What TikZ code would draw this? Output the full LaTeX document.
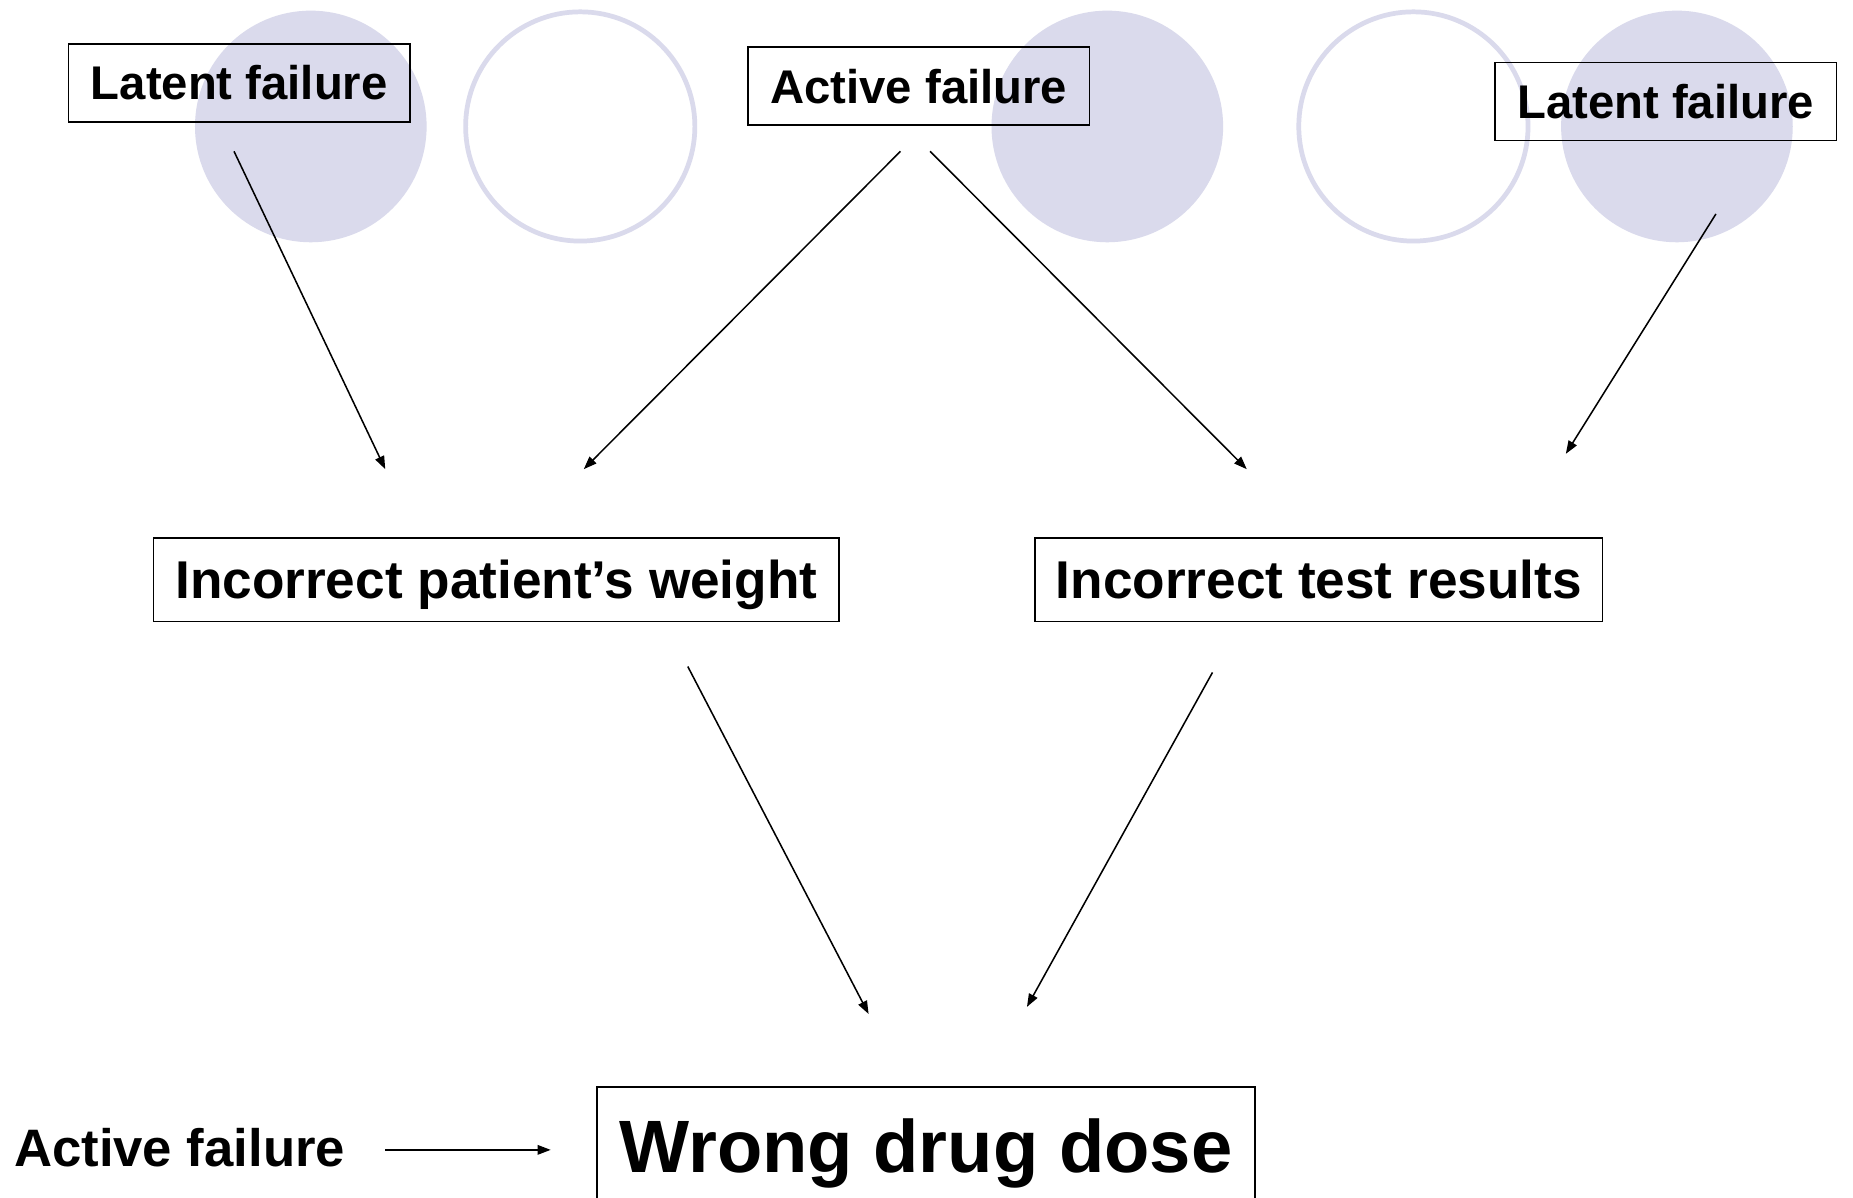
\documentclass[tikz,border=0pt]{standalone}
\usepackage{fontspec}
\setmainfont{Liberation Sans}
\usetikzlibrary{arrows.meta}
\definecolor{lav}{RGB}{218,218,236}
\begin{document}
\begin{tikzpicture}[x=1pt,y=-1pt,
  fbox/.style={draw=black, line width=1.4pt, inner sep=0pt, text height=28.6pt, text depth=0pt,
    font=\bfseries\fontsize{40}{48}\selectfont},
  mbox/.style={fbox, text height=32.2pt, font=\bfseries\fontsize{45}{54}\selectfont},
  bigbox/.style={fbox, text height=45pt, font=\bfseries\fontsize{62.8}{75}\selectfont},
  plain/.style={inner sep=0pt, text height=32pt, text depth=0pt, font=\bfseries\fontsize{44.6}{54}\selectfont},
  disc/.style={fill=lav},
  ring/.style={draw=lav, line width=4pt},
  arr/.style={line width=1.3pt, -{Triangle[length=11pt,width=8pt]}}]
\clip (0,0) rectangle (1568,1013);
\fill[white] (0,0) rectangle (1568,1013);
% circles
\fill[disc] (263,107) circle[radius=98];
\draw[ring] (491,107) circle[radius=97];
\fill[disc] (937,107) circle[radius=98];
\draw[ring] (1196,107) circle[radius=97];
\fill[disc] (1419,107) circle[radius=98];
% boxes
\node[fbox, minimum width=289pt, minimum height=66pt] (lat1) at (202.5,70) {Latent failure};
\node[fbox, minimum width=289pt, minimum height=66pt] (act1) at (777.5,73) {Active failure};
\node[fbox, minimum width=289pt, minimum height=66pt] (lat2) at (1409.5,86) {Latent failure};
\node[mbox, minimum width=580pt, minimum height=71pt] (wgt) at (420,490.5) {Incorrect patient’s weight};
\node[mbox, minimum width=480pt, minimum height=71pt] (tst) at (1116,490.5) {Incorrect test results};
\node[bigbox, minimum width=557pt, minimum height=100pt] (dose) at (783.5,970) {Wrong drug dose};
\node[plain] (act2) at (152,971) {Active failure};
% connector end points
\coordinate (a1s) at (198,128);  \coordinate (a1e) at (326,397);
\coordinate (a2s) at (762,128);  \coordinate (a2e) at (494,397);
\coordinate (a3s) at (787,128);  \coordinate (a3e) at (1055,397);
\coordinate (a4s) at (1452,181); \coordinate (a4e) at (1325,384);
\coordinate (a5s) at (582,564);  \coordinate (a5e) at (735,858);
\coordinate (a6s) at (1026,569); \coordinate (a6e) at (869,852);
\coordinate (a7s) at (326,973);  \coordinate (a7e) at (466,973);
\draw[arr] (a1s) -- (a1e);
\draw[arr] (a2s) -- (a2e);
\draw[arr] (a3s) -- (a3e);
\draw[arr] (a4s) -- (a4e);
\draw[arr] (a5s) -- (a5e);
\draw[arr] (a6s) -- (a6e);
\draw[arr] (a7s) -- (a7e);
\end{tikzpicture}
\end{document}
